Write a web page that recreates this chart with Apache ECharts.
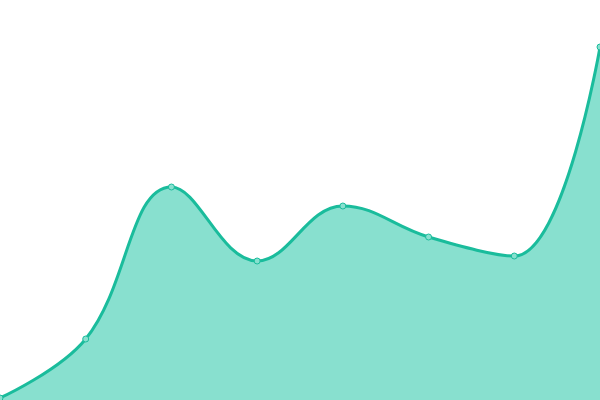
<!DOCTYPE html>
<html><head><meta charset="utf-8">
<script src="https://cdn.jsdelivr.net/npm/echarts@6/dist/echarts.min.js"></script>
<style>html,body{margin:0;padding:0;background:#fff}#c{width:600px;height:400px}</style>
</head><body><div id="c"></div>
<script>
const categories = ['1','2','3','4','5','6','7','8'];
const values = [2, 61, 213, 139, 194, 163, 144, 353];
const chart = echarts.init(document.getElementById('c'));
chart.setOption({
  animation: false,
  grid: {left: 0, right: 0, top: 0, bottom: 0},
  xAxis: {type: 'category', data: categories, boundaryGap: false, show: false},
  yAxis: {type: 'value', min: 0, max: 400, show: false},
  series: [{
    type: 'line',
    data: values,
    smooth: 0.4,
    symbol: 'circle',
    symbolSize: 6,
    lineStyle: {color: '#1abc9c', width: 3},
    itemStyle: {color: '#88e0cf', borderColor: '#1abc9c', borderWidth: 1},
    areaStyle: {color: '#88e0cf', opacity: 1}
  }]
});
</script></body></html>
